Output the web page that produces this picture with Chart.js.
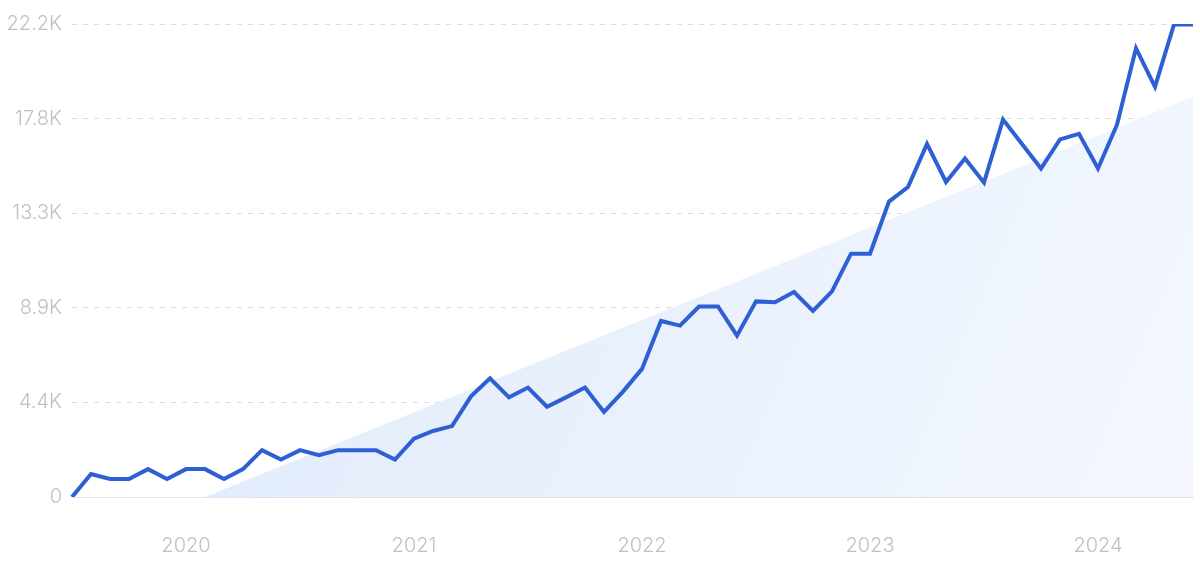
<!DOCTYPE html>
<html>
<head>
<meta charset="utf-8">
<script src="https://cdn.jsdelivr.net/npm/chart.js@4.4.1/dist/chart.umd.min.js"></script>
<style>
  html, body { margin: 0; padding: 0; background: #ffffff; }
  #wrap { width: 1200px; height: 561px; position: relative; }
</style>
</head>
<body>
<div id="wrap"><canvas id="c" width="1200" height="561"></canvas></div>
<script>
// ---- data ----
const months = [
  "Jul 2019","Aug 2019","Sep 2019","Oct 2019","Nov 2019","Dec 2019",
  "Jan 2020","Feb 2020","Mar 2020","Apr 2020","May 2020","Jun 2020",
  "Jul 2020","Aug 2020","Sep 2020","Oct 2020","Nov 2020","Dec 2020",
  "Jan 2021","Feb 2021","Mar 2021","Apr 2021","May 2021","Jun 2021",
  "Jul 2021","Aug 2021","Sep 2021","Oct 2021","Nov 2021","Dec 2021",
  "Jan 2022","Feb 2022","Mar 2022","Apr 2022","May 2022","Jun 2022",
  "Jul 2022","Aug 2022","Sep 2022","Oct 2022","Nov 2022","Dec 2022",
  "Jan 2023","Feb 2023","Mar 2023","Apr 2023","May 2023","Jun 2023",
  "Jul 2023","Aug 2023","Sep 2023","Oct 2023","Nov 2023","Dec 2023",
  "Jan 2024","Feb 2024","Mar 2024","Apr 2024","May 2024","Jun 2024"
];
const searches = [
  0, 1080, 850, 850, 1310, 850,
  1310, 1310, 850, 1310, 2200, 1760,
  2200, 1960, 2200, 2200, 2200, 1760,
  2740, 3100, 3330, 4730, 5580, 4680,
  5140, 4240, 4680, 5140, 4000, 4950,
  6020, 8270, 8050, 8950, 8950, 7580,
  9190, 9150, 9630, 8740, 9660, 11430,
  11430, 13880, 14560, 16590, 14800, 15900,
  14770, 17730, 16580, 15430, 16800, 17060,
  15430, 17490, 21080, 19270, 22200, 22200
];
// trend line end values (first and last month)
const trendEnds = [-2530, 18800];
const yTickValues = [0, 4444.4, 8888.8, 13333.3, 17777.7, 22222];
const yTickLabels = ["0", "4.4K", "8.9K", "13.3K", "17.8K", "22.2K"];
const yMax = 22222;

// ---- build ----
const trendData = months.map((_, i) =>
  i === 0 ? trendEnds[0] : (i === months.length - 1 ? trendEnds[1] : null));

const ctx = document.getElementById('c').getContext('2d');
const labelColor = '#bdc0c7';
const fontFamily = 'Inter, Roboto, "Noto Sans", sans-serif';

new Chart(ctx, {
  type: 'line',
  data: {
    labels: months,
    datasets: [
      {
        data: searches,
        borderColor: '#2e5fd3',
        borderWidth: 4,
        pointRadius: 0,
        tension: 0,
        fill: false,
        order: 0,
        borderJoinStyle: 'miter'
      },
      {
        data: trendData,
        spanGaps: true,
        borderWidth: 0,
        borderColor: 'rgba(0,0,0,0)',
        pointRadius: 0,
        fill: 'origin',
        order: 1,
        backgroundColor: (c) => {
          const area = c.chart.chartArea;
          if (!area) return '#e8f0fc';
          const g = c.chart.ctx.createLinearGradient(area.left, area.top, area.right, area.bottom);
          g.addColorStop(0, '#dfe9fb');
          g.addColorStop(0.5, '#e8f0fc');
          g.addColorStop(1, '#f4f8fe');
          return g;
        }
      }
    ]
  },
  options: {
    responsive: false,
    animation: false,
    events: [],
    layout: { padding: { top: 24, right: 7, left: 0, bottom: 0 } },
    plugins: { legend: { display: false }, tooltip: { enabled: false } },
    scales: {
      x: {
        type: 'category',
        offset: false,
        grid: { display: false, drawTicks: false },
        border: { display: true, color: '#dde3ec', width: 1 },
        ticks: {
          autoSkip: false,
          maxRotation: 0,
          padding: 37,
          color: labelColor,
          font: { family: fontFamily, size: 20, weight: 300 },
          callback: function(val, idx) {
            const l = months[idx];
            return l.startsWith('Jan') ? l.slice(4) : '';
          }
        },
        afterFit: (s) => { s.height = 64; s.paddingLeft = 0; s.paddingRight = 0; }
      },
      y: {
        min: 0,
        max: yMax,
        afterBuildTicks: (s) => { s.ticks = yTickValues.map(v => ({ value: v })); },
        grid: {
          drawTicks: false,
          color: (c) => (c.tick && c.tick.value === 0) ? 'rgba(0,0,0,0)' : '#d9dee6',
          lineWidth: 1
        },
        border: { display: false, dash: [5, 6] },
        ticks: {
          padding: 10,
          color: labelColor,
          font: { family: fontFamily, size: 20, weight: 300 },
          callback: function(val, idx) { return yTickLabels[idx]; }
        },
        afterFit: (s) => { s.width = 72; s.paddingTop = 0; s.paddingBottom = 0; }
      }
    }
  }
});
</script>
</body>
</html>
